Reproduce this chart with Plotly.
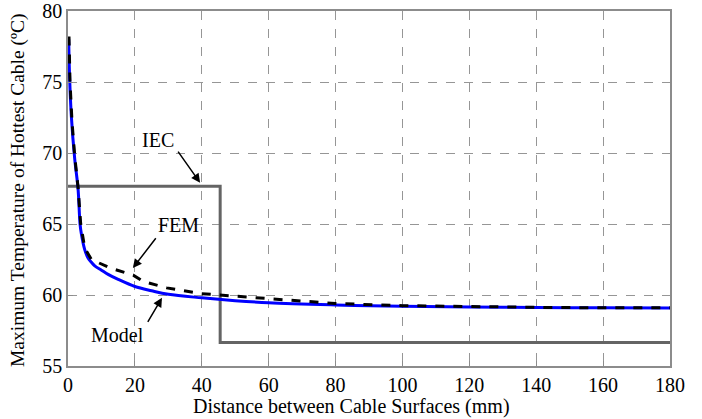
import plotly.graph_objects as go

# Data
model_x = [0.2, 0.5, 1, 2, 3, 3.6, 4, 5, 6, 7, 8, 10, 12, 15, 20, 25, 30, 40, 50, 60, 80, 100, 120, 140, 160, 180]
model_y = [78.0, 75.2, 72.6, 69.6, 67.5, 65.0, 64.3, 63.2, 62.6, 62.3, 62.05, 61.75, 61.45, 61.1, 60.6, 60.3, 60.05, 59.8, 59.6, 59.45, 59.3, 59.2, 59.15, 59.12, 59.1, 59.08]

fem_x = [0.3, 0.6, 1.2, 2, 3, 3.8, 5, 7, 12.6, 19.5, 22.5, 29.5, 39.5, 54.4, 72.4, 80, 100, 120, 140, 160, 180]
fem_y = [78.2, 75.0, 72.2, 69.8, 67.6, 65.0, 63.3, 62.5, 61.9, 61.4, 60.95, 60.5, 60.1, 59.85, 59.55, 59.4, 59.25, 59.17, 59.13, 59.1, 59.1]

iec_x = [0, 45.5, 45.5, 180]
iec_y = [67.65, 67.65, 56.65, 56.65]

x_ticks = [0, 20, 40, 60, 80, 100, 120, 140, 160, 180]
y_ticks = [55, 60, 65, 70, 75, 80]

x_title = "Distance between Cable Surfaces (mm)"
y_title = "Maximum Temperature of Hottest Cable (ºC)"

FONT = "Liberation Serif"
W, H = 702, 419
ML, MR, MT, MB = 68, 32, 11, 53
PW, PH = W - ML - MR, H - MT - MB

fig = go.Figure()
fig.add_trace(go.Scatter(x=iec_x, y=iec_y, mode="lines",
                         line=dict(color="rgb(100,100,100)", width=3), showlegend=False))
fig.add_trace(go.Scatter(x=model_x, y=model_y, mode="lines", line_shape="spline",
                         line=dict(color="rgb(0,0,255)", width=3), showlegend=False))
fig.add_trace(go.Scatter(x=fem_x, y=fem_y, mode="lines",
                         line=dict(color="black", width=3, dash="dash"), showlegend=False))

def arrow(hx, hy, tx, ty):
    fig.add_annotation(x=hx, y=hy, ax=tx, ay=ty, xref="x", yref="y", axref="x", ayref="y",
                       text="", showarrow=True, arrowhead=2, arrowsize=1.2, arrowwidth=1.5,
                       arrowcolor="black")

def label(x, y, t):
    fig.add_annotation(x=x, y=y, xref="x", yref="y", text=t, showarrow=False,
                       font=dict(family=FONT, size=20, color="black"))

label(26.9, 70.9, "IEC")
arrow(39.5, 67.9, 32.6, 70.2)
label(33.0, 64.9, "FEM")
arrow(19.4, 61.9, 26.6, 64.1)
label(14.7, 57.2, "Model")
arrow(28.1, 59.8, 23.6, 58.0)

# axis titles as paper annotations for exact placement
fig.add_annotation(x=(351 - ML) / PW, y=-(406 - (H - MB)) / PH, xref="paper", yref="paper",
                   text=x_title, showarrow=False, xanchor="center", yanchor="middle",
                   font=dict(family=FONT, size=20, color="black"))
fig.add_annotation(x=-(ML - 18) / PW, y=1 - (190 - MT) / PH, xref="paper", yref="paper",
                   text=y_title, showarrow=False, textangle=-90, xanchor="center", yanchor="middle",
                   font=dict(family=FONT, size=19.5, color="black"))

axis_common = dict(showline=True, linecolor="rgb(140,140,140)", linewidth=1.5, mirror=True,
                   ticks="inside", ticklen=5, tickcolor="rgb(140,140,140)",
                   showgrid=True, gridcolor="rgb(150,150,150)", griddash="dash", gridwidth=1,
                   zeroline=False, automargin=False, ticklabeloverflow="allow",
                   tickfont=dict(family=FONT, size=20, color="black"))

fig.update_xaxes(range=[0, 180], tickvals=x_ticks, ticktext=[str(v) for v in x_ticks],
                 **axis_common)
fig.update_yaxes(range=[55, 80], tickvals=y_ticks, ticktext=[str(v) for v in y_ticks],
                 **axis_common)

fig.update_layout(width=W, height=H, margin=dict(l=ML, r=MR, t=MT, b=MB),
                  paper_bgcolor="white", plot_bgcolor="white")

fig.write_html("out.html")
